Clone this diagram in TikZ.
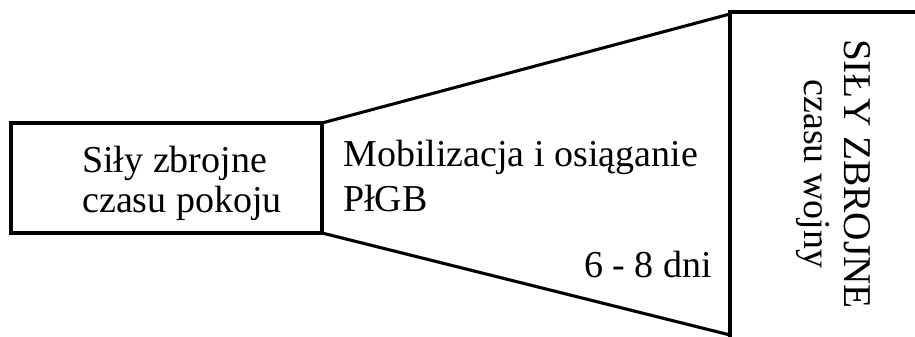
\documentclass[tikz,border=0pt]{standalone}
\usepackage{fontspec}
\setmainfont{Liberation Serif}
\usepackage{xcolor}

\tikzset{
  ramka/.style={line width=2.3pt, black, line join=miter},
  napis/.style={font=\fontsize{28.5}{30}\selectfont, inner sep=0pt}
}

\begin{document}
\begin{tikzpicture}[x=0.75pt, y=0.75pt]

\useasboundingbox (0,0) rectangle (915,336);
\clip (0,0) rectangle (915,336);

% corners
\coordinate (pokojSW) at (11,103);
\coordinate (pokojNE) at (322,213);
\coordinate (pokojSE) at (322,103);
\coordinate (wojnaNW) at (730,324);
\coordinate (wojnaSW) at (730,-10);
\coordinate (wojnaNE) at (930,324);
\coordinate (lejekG) at (730,322);
\coordinate (lejekD) at (730,1);

\draw[ramka] (pokojSW) rectangle (pokojNE);

\draw[ramka] (pokojNE) -- (lejekG);
\draw[ramka] (pokojSE) -- (lejekD);

\draw[ramka] (wojnaSW) -- (wojnaNW) -- (wojnaNE);

\node[napis, align=left, anchor=base west] (pokoj) at (82,123) {Siły zbrojne\\czasu pokoju};
\node[napis, font=\fontsize{28.5}{33.75}\selectfont, align=left, anchor=base west] (mob) at (343,124) {Mobilizacja i osiąganie\\PłGB};
\node[napis, anchor=base east] (dni) at (712,58) {6 - 8 dni};

\node[napis, rotate=-90, align=center] (wojna) at (833,162)
  {{\fontsize{29.5}{29.5}\selectfont SIŁY ZBROJNE}\\czasu wojny};

\end{tikzpicture}
\end{document}
